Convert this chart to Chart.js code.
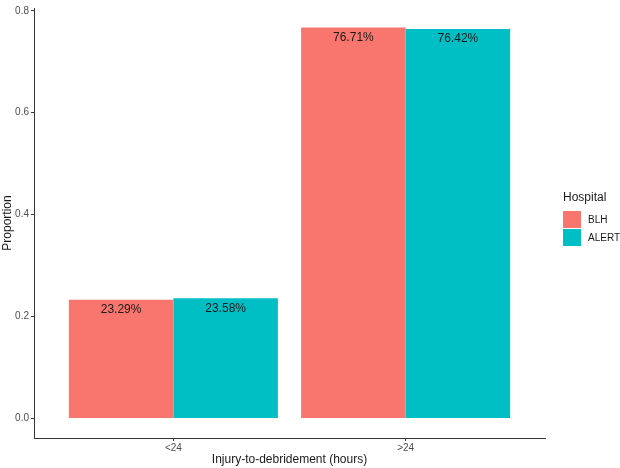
<!DOCTYPE html>
<html>
<head>
<meta charset="utf-8">
<script src="https://cdn.jsdelivr.net/npm/chart.js@4"></script>
<style>
  html, body { margin: 0; padding: 0; background: #fff; }
  #wrap { width: 620px; height: 468px; position: relative; }
</style>
</head>
<body>
<div id="wrap"><canvas id="c"></canvas></div>
<script>
const categories = ['<24', '>24'];
const seriesNames = ['BLH', 'ALERT'];
const blhValues = [0.2329, 0.7671];
const alertValues = [0.2358, 0.7642];
const yTicks = [0, 0.2, 0.4, 0.6, 0.8];
const colors = ['#F8766D', '#00BFC4'];

const FONT = "'Liberation Sans', Arial, Helvetica, sans-serif";

function toPoints(vals) {
  return vals.map((v, i) => ({ x: i + 1, y: v }));
}

const allVals = blhValues.concat(alertValues);
const yMaxData = Math.max(...allVals);
const yExp = yMaxData * 0.05;

const labelPlugin = {
  id: 'barLabels',
  afterDatasetsDraw(chart) {
    const ctx = chart.ctx;
    ctx.save();
    ctx.font = '12px ' + FONT;
    ctx.fillStyle = '#1a1a1a';
    ctx.textAlign = 'center';
    ctx.textBaseline = 'middle';
    chart.data.datasets.forEach((ds, di) => {
      const meta = chart.getDatasetMeta(di);
      meta.data.forEach((bar, i) => {
        const v = ds.data[i].y;
        ctx.fillText((v * 100).toFixed(2) + '%', bar.x, bar.y + 10);
      });
    });
    ctx.restore();
  }
};

const legendPlugin = {
  id: 'ggLegend',
  afterDraw(chart) {
    const ctx = chart.ctx;
    const x0 = 563;
    ctx.save();
    ctx.fillStyle = '#1a1a1a';
    ctx.textBaseline = 'middle';
    ctx.textAlign = 'left';
    ctx.font = '12px ' + FONT;
    ctx.fillText('Hospital', x0, 198);
    chart.data.datasets.forEach((ds, i) => {
      const y = 211 + i * 18;
      ctx.fillStyle = ds.backgroundColor;
      ctx.fillRect(x0, y, 18, 17);
      ctx.fillStyle = '#1a1a1a';
      ctx.font = '10px ' + FONT;
      ctx.fillText(ds.label, x0 + 25, y + 9);
    });
    ctx.restore();
  }
};

new Chart(document.getElementById('c'), {
  type: 'bar',
  data: {
    datasets: [
      { label: seriesNames[0], data: toPoints(blhValues), backgroundColor: colors[0], borderWidth: 0 },
      { label: seriesNames[1], data: toPoints(alertValues), backgroundColor: colors[1], borderWidth: 0 }
    ]
  },
  options: {
    responsive: true,
    maintainAspectRatio: false,
    animation: false,
    devicePixelRatio: 1,
    layout: { padding: { left: 0, right: 75, top: 2, bottom: 0 } },
    datasets: { bar: { categoryPercentage: 0.9, barPercentage: 1.0 } },
    plugins: { legend: { display: false }, tooltip: { enabled: false } },
    scales: {
      x: {
        type: 'linear',
        offset: false,
        min: 0.4,
        max: 2.6,
        afterBuildTicks(scale) {
          scale.ticks = categories.map((c, i) => ({ value: i + 1 }));
        },
        afterFit(scale) { scale.height = 30; },
        ticks: {
          autoSkip: false,
          maxRotation: 0,
          padding: 1,
          color: '#4d4d4d',
          font: { family: FONT, size: 10 },
          callback: (v) => categories[Math.round(v) - 1] || ''
        },
        grid: { display: true, drawOnChartArea: false, drawTicks: true, tickLength: 3, color: '#333333', offset: false },
        border: { display: true, color: '#333333', width: 1 },
        title: {
          display: true,
          text: 'Injury-to-debridement (hours)',
          color: '#1a1a1a',
          font: { family: FONT, size: 12 },
          padding: { top: 0, bottom: 1 }
        }
      },
      y: {
        min: -yExp,
        max: yMaxData + yExp,
        afterBuildTicks(scale) {
          scale.ticks = yTicks.map(v => ({ value: v }));
        },
        afterFit(scale) { scale.width = 34; },
        ticks: {
          padding: 2,
          color: '#4d4d4d',
          font: { family: FONT, size: 10 },
          callback: (v) => Number(v).toFixed(1)
        },
        grid: { display: true, drawOnChartArea: false, drawTicks: true, tickLength: 3, color: '#333333' },
        border: { display: true, color: '#333333', width: 1 },
        title: {
          display: true,
          text: 'Proportion',
          color: '#1a1a1a',
          font: { family: FONT, size: 12 },
          padding: { top: 0, bottom: 0 }
        }
      }
    }
  },
  plugins: [labelPlugin, legendPlugin]
});
</script>
</body>
</html>
